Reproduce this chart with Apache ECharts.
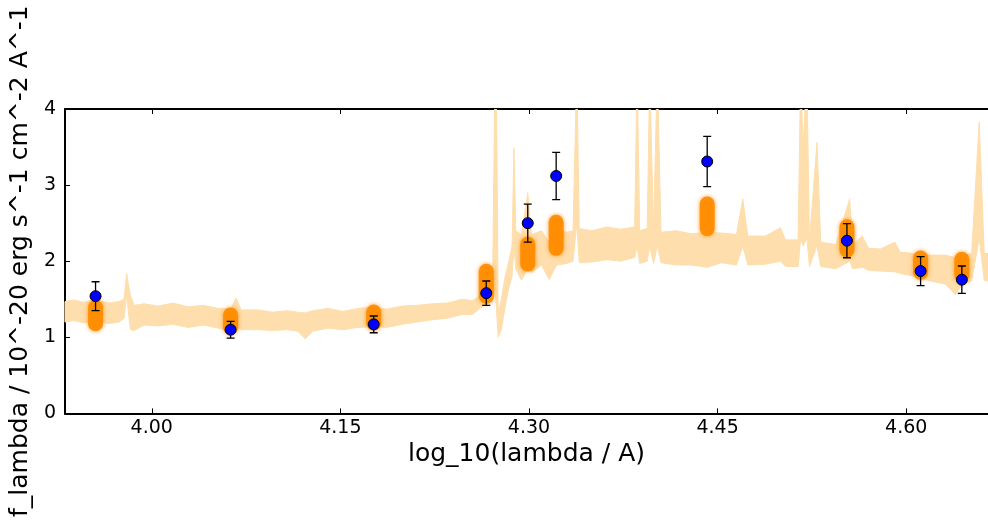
<!DOCTYPE html>
<html>
<head>
<meta charset="utf-8">
<script src="https://cdn.jsdelivr.net/npm/echarts@6/dist/echarts.min.js"></script>
<style>html,body{margin:0;padding:0;background:#fff;}#chart{width:988px;height:520px;}</style>
</head>
<body>
<div id="chart"></div>
<script>
// ---- data ----
const xTicks = [4.00, 4.15, 4.30, 4.45, 4.60];
const yTicks = [0, 1, 2, 3, 4];

// observed photometry
const photX   = [3.9553, 4.0627, 4.1765, 4.2660, 4.2990, 4.3216, 4.4417, 4.5528, 4.6114, 4.6442];
const photY   = [1.54, 1.10, 1.17, 1.58, 2.50, 3.12, 3.31, 2.27, 1.87, 1.757];
const photErr = [0.19, 0.11, 0.11, 0.16, 0.25, 0.31, 0.33, 0.225, 0.19, 0.18];

// model photometry range
const modelLo = [1.08, 1.035, 1.09, 1.44, 1.866, 2.07, 2.33, 2.05, 1.757, 1.72];
const modelHi = [1.49, 1.39, 1.43, 1.965, 2.32, 2.61, 2.85, 2.55, 2.14, 2.125];

// model spectrum band
const bandX = [3.931,3.938,3.946,3.9555,3.966,3.974,3.978,3.980,3.983,3.986,3.994,4.005,4.017,4.029,4.041,4.053,4.063,4.067,4.071,4.085,4.096,4.108,4.116,4.122,4.128,4.140,4.152,4.164,4.176,4.187,4.199,4.211,4.223,4.235,4.247,4.255,4.261,4.267,4.271,4.273,4.274,4.2755,4.278,4.281,4.284,4.2865,4.288,4.2895,4.294,4.299,4.302,4.310,4.316,4.322,4.330,4.335,4.338,4.340,4.350,4.362,4.373,4.384,4.386,4.388,4.394,4.396,4.399,4.402,4.405,4.417,4.429,4.442,4.453,4.465,4.470,4.474,4.488,4.500,4.504,4.514,4.516,4.518,4.521,4.523,4.529,4.532,4.544,4.555,4.5575,4.565,4.570,4.5795,4.591,4.595,4.607,4.619,4.631,4.639,4.644,4.652,4.658,4.662,4.665];
const bandHi = [1.47,1.49,1.46,1.50,1.45,1.47,1.50,1.84,1.55,1.42,1.44,1.41,1.45,1.40,1.42,1.38,1.37,1.52,1.36,1.36,1.33,1.35,1.33,1.32,1.35,1.38,1.34,1.38,1.40,1.37,1.41,1.42,1.44,1.45,1.50,1.48,1.55,1.60,1.65,4.5,4.5,1.3,1.5,1.8,2.0,2.2,3.49,2.4,2.35,2.9,2.35,2.4,2.25,2.42,2.38,2.40,4.5,2.43,2.40,2.45,2.42,2.45,4.5,2.4,2.43,4.5,2.4,4.5,2.38,2.40,2.36,2.38,2.37,2.35,2.82,2.33,2.33,2.44,2.28,2.28,4.5,3.5,4.5,2.26,3.56,2.25,2.22,2.82,2.22,2.33,2.17,2.16,2.25,2.12,2.10,2.08,2.08,2.05,2.07,2.10,3.83,2.10,2.10];
const bandLo = [1.20,1.22,1.19,1.21,1.18,1.20,1.25,1.55,1.10,1.09,1.16,1.15,1.17,1.13,1.16,1.12,1.08,1.14,1.10,1.10,1.09,1.10,1.08,0.98,1.08,1.12,1.10,1.13,1.14,1.13,1.17,1.20,1.23,1.25,1.30,1.30,1.38,1.45,1.48,1.6,1.4,1.0,1.1,1.4,1.65,1.8,2.2,1.9,1.75,1.9,1.85,1.95,1.76,1.95,1.97,2.0,2.5,1.98,1.99,2.02,2.00,2.05,2.2,1.97,2.0,2.2,1.97,2.2,1.98,1.95,1.95,1.92,1.98,1.95,2.2,1.95,1.96,2.0,1.93,1.93,2.3,2.2,2.3,1.93,2.2,1.93,1.90,2.0,1.9,1.92,1.88,1.87,1.86,1.84,1.80,1.74,1.70,1.56,1.68,1.74,2.3,1.75,1.74];

// ---- chart ----
const FONT = 'DejaVu Sans';
const chart = echarts.init(document.getElementById('chart'), null, {renderer: 'canvas'});

const axisCommon = {
  type: 'value',
  axisLine: {show: true, lineStyle: {color: '#000', width: 2}},
  splitLine: {show: false}
};

chart.setOption({
  animation: false,
  backgroundColor: '#fff',
  grid: {left: 61, right: 0, top: 109, bottom: 103, containLabel: false},
  xAxis: [
    Object.assign({}, axisCommon, {
      min: 3.931, max: 4.665, position: 'bottom',
      name: 'log_10(lambda / A)', nameLocation: 'middle', nameGap: 26,
      nameTextStyle: {fontFamily: FONT, fontSize: 25, color: '#000'},
      axisTick: {show: true, inside: true, length: 5, customValues: xTicks, lineStyle: {color: '#000', width: 1}},
      axisLabel: {show: true, customValues: xTicks, margin: 5, fontFamily: FONT, fontSize: 19, color: '#000',
                  formatter: v => Number(v).toFixed(2)}
    }),
    Object.assign({}, axisCommon, {
      min: 3.931, max: 4.665, position: 'top',
      axisTick: {show: true, inside: true, length: 5, customValues: xTicks, lineStyle: {color: '#000', width: 1}},
      axisLabel: {show: false}
    })
  ],
  yAxis: [
    Object.assign({}, axisCommon, {
      min: 0, max: 4, interval: 1, position: 'left',
      name: 'f_lambda / 10^-20 erg s^-1 cm^-2 A^-1', nameLocation: 'middle', nameGap: 22,
      nameTextStyle: {fontFamily: FONT, fontSize: 25, color: '#000'},
      axisTick: {show: true, inside: true, length: 5, customValues: yTicks, lineStyle: {color: '#000', width: 1}},
      axisLabel: {show: true, customValues: yTicks, margin: 9, fontFamily: FONT, fontSize: 19, color: '#000',
                  formatter: v => String(Math.round(v))}
    })
  ],
  series: [
    {
      type: 'custom', name: 'band', clip: true, z: 1,
      data: [[bandX[0], bandLo[0]]],
      renderItem: function (params, api) {
        const pts = [];
        for (let i = 0; i < bandX.length; i++) pts.push(api.coord([bandX[i], bandHi[i]]));
        for (let i = bandX.length - 1; i >= 0; i--) pts.push(api.coord([bandX[i], bandLo[i]]));
        return {type: 'polygon', shape: {points: pts}, style: {fill: '#fedeac', stroke: '#fedeac', lineWidth: 1}};
      }
    },
    {
      type: 'custom', name: 'model', clip: true, z: 2,
      data: photX.map((x, i) => [x, modelLo[i], modelHi[i]]),
      renderItem: function (params, api) {
        const t = api.coord([api.value(0), api.value(2)]);
        const b = api.coord([api.value(0), api.value(1)]);
        const w = 15;
        return {type: 'rect', shape: {x: t[0] - w / 2, y: t[1], width: w, height: b[1] - t[1], r: w / 2},
                style: {fill: 'rgba(255,140,0,0.92)', shadowBlur: 4, shadowColor: 'rgba(255,140,0,0.9)'}};
      }
    },
    {
      type: 'custom', name: 'err', clip: true, z: 3,
      data: photX.map((x, i) => [x, photY[i] - photErr[i], photY[i] + photErr[i]]),
      renderItem: function (params, api) {
        const t = api.coord([api.value(0), api.value(2)]);
        const b = api.coord([api.value(0), api.value(1)]);
        const c = 4;
        const st = {stroke: '#000', lineWidth: 1.3};
        return {type: 'group', children: [
          {type: 'line', shape: {x1: t[0], y1: t[1], x2: b[0], y2: b[1]}, style: st},
          {type: 'line', shape: {x1: t[0] - c, y1: t[1], x2: t[0] + c, y2: t[1]}, style: st},
          {type: 'line', shape: {x1: b[0] - c, y1: b[1], x2: b[0] + c, y2: b[1]}, style: st}
        ]};
      }
    },
    {
      type: 'scatter', name: 'phot', z: 4,
      data: photX.map((x, i) => [x, photY[i]]),
      symbol: 'circle', symbolSize: 11,
      itemStyle: {color: '#0000ff', borderColor: '#000', borderWidth: 1, opacity: 1}
    }
  ]
});
</script>
</body>
</html>
